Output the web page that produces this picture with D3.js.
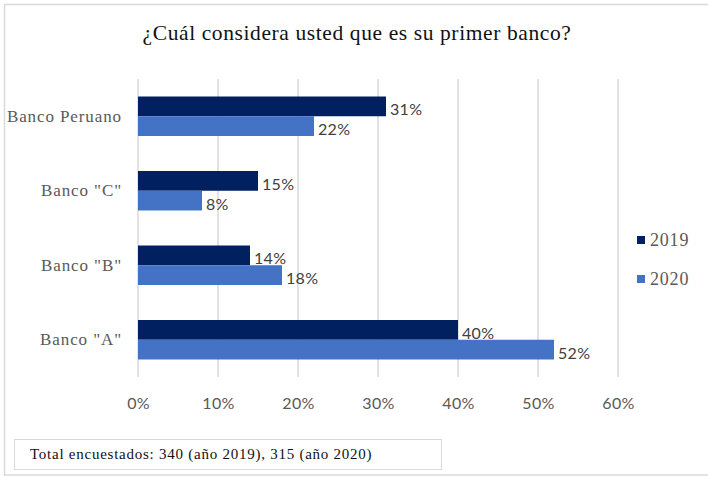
<!DOCTYPE html>
<html>
<head>
<meta charset="utf-8">
<script src="https://cdn.jsdelivr.net/npm/d3@7"></script>
<style>
  html, body { margin: 0; padding: 0; background: #fff; }
  svg { display: block; }
</style>
</head>
<body>
<svg id="chart" width="708" height="477"></svg>
<script>
// Survey data: share of respondents naming each bank as their primary bank
const categories = ['Banco Peruano', 'Banco "C"', 'Banco "B"', 'Banco "A"'];
const seriesNames = ['2019', '2020'];
const values2019 = [0.31, 0.15, 0.14, 0.40];
const values2020 = [0.22, 0.08, 0.18, 0.52];
const tickValues = [0, 0.1, 0.2, 0.3, 0.4, 0.5, 0.6];
const colors = ['#002060', '#4472C4'];
const titleText = '¿Cuál considera usted que es su primer banco?';
const noteText = 'Total encuestados: 340 (año 2019), 315 (año 2020)';

const svg = d3.select('#chart');
const serif = '"Liberation Serif", "Times New Roman", serif';
const sans = 'Lato, "Open Sans", sans-serif';

// Chart frame
svg.append('rect')
  .attr('x', 4.5).attr('y', 4.5).attr('width', 720).attr('height', 470.5)
  .attr('fill', '#fff').attr('stroke', '#d9d9d9').attr('stroke-width', 1.5);

// Title
svg.append('text')
  .attr('x', 357).attr('y', 40)
  .attr('text-anchor', 'middle')
  .attr('font-family', serif).attr('font-size', 21.5)
  .attr('letter-spacing', 0.6)
  .attr('fill', '#111')
  .text(titleText);

const plot = { left: 138, right: 618, top: 79, bottom: 377 };

const x = d3.scaleLinear().domain([0, 0.6]).range([plot.left, plot.right]);
const y = d3.scaleBand().domain(categories).range([plot.top, plot.bottom]).paddingInner(0.47).paddingOuter(0.235);
const ySub = d3.scaleBand().domain(seriesNames).range([0, y.bandwidth()]);

// Vertical gridlines
svg.append('g').selectAll('line').data(tickValues).join('line')
  .attr('x1', d => x(d)).attr('x2', d => x(d))
  .attr('y1', plot.top).attr('y2', plot.bottom)
  .attr('stroke', '#d9d9d9').attr('stroke-width', 1.5);

// X axis tick labels
const xAxis = d3.axisBottom(x).tickValues(tickValues).tickFormat(d3.format('.0%')).tickSize(0).tickPadding(0);
const gx = svg.append('g').attr('transform', `translate(0, ${plot.bottom + 32})`).call(xAxis);
gx.select('.domain').remove();
gx.selectAll('text')
  .attr('font-family', sans).attr('font-size', 16).attr('letter-spacing', 0.3)
  .attr('fill', '#595959').attr('dy', 0);

// Category labels
const yAxis = d3.axisLeft(y).tickSize(0).tickPadding(16);
const gy = svg.append('g').attr('transform', `translate(${plot.left}, 0)`).call(yAxis);
gy.select('.domain').remove();
gy.selectAll('text')
  .attr('font-family', serif).attr('font-size', 17).attr('letter-spacing', 0.9)
  .attr('fill', '#595959');

// Bars
const rows = categories.map((c, i) => ({ cat: c, vals: [values2019[i], values2020[i]] }));
const groups = svg.append('g').selectAll('g').data(rows).join('g')
  .attr('transform', d => `translate(0, ${y(d.cat)})`);

groups.selectAll('rect').data(d => d.vals.map((v, j) => ({ v, s: seriesNames[j], j }))).join('rect')
  .attr('x', x(0))
  .attr('y', d => ySub(d.s))
  .attr('width', d => x(d.v) - x(0))
  .attr('height', ySub.bandwidth())
  .attr('fill', d => colors[d.j]);

// Value labels
groups.selectAll('text').data(d => d.vals.map((v, j) => ({ v, s: seriesNames[j], j }))).join('text')
  .attr('x', d => x(d.v) + 4)
  .attr('y', d => ySub(d.s) + ySub.bandwidth() / 2 + 9)
  .attr('font-family', sans).attr('font-size', 16).attr('letter-spacing', 0.3)
  .attr('fill', '#404040')
  .text(d => d3.format('.0%')(d.v));

// Legend
const legend = svg.append('g').selectAll('g').data(seriesNames).join('g')
  .attr('transform', (d, i) => `translate(637, ${236 + i * 39})`);
legend.append('rect').attr('width', 8).attr('height', 8).attr('fill', (d, i) => colors[i]);
legend.append('text')
  .attr('x', 13).attr('y', 10)
  .attr('font-family', serif).attr('font-size', 18).attr('letter-spacing', 0.8)
  .attr('fill', '#595959')
  .text(d => d);

// Footnote box
svg.append('rect')
  .attr('x', 14.5).attr('y', 439.5).attr('width', 427).attr('height', 30)
  .attr('fill', '#fff').attr('stroke', '#d9d9d9').attr('stroke-width', 1);
svg.append('text')
  .attr('x', 30).attr('y', 459)
  .attr('font-family', serif).attr('font-size', 15).attr('letter-spacing', 0.75)
  .attr('fill', '#111')
  .text(noteText);
</script>
</body>
</html>
